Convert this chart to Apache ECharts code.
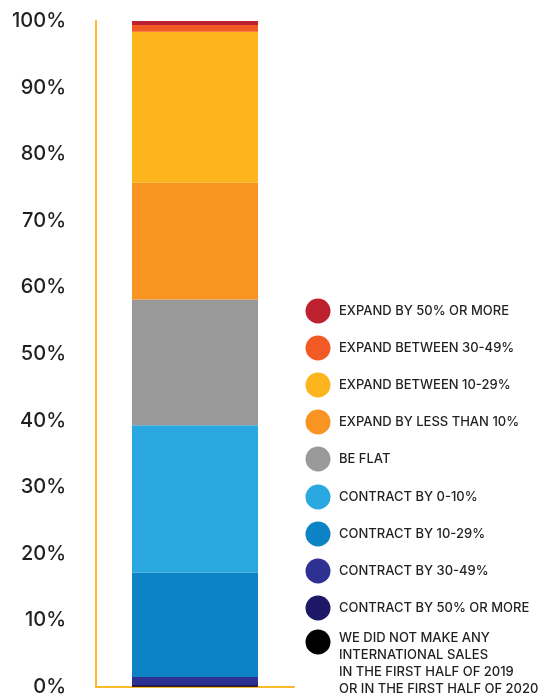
<!DOCTYPE html>
<html>
<head>
<meta charset="utf-8">
<script src="https://cdn.jsdelivr.net/npm/echarts@6/dist/echarts.min.js"></script>
<style>
  html, body { margin: 0; padding: 0; background: #fff; }
  #chart { width: 544px; height: 697px; }
</style>
</head>
<body>
<div id="chart"></div>
<script>
// Stacked share of responses, listed from the bottom of the bar to the top
const seriesNames = [
  'WE DID NOT MAKE ANY\nINTERNATIONAL SALES\nIN THE FIRST HALF OF 2019\nOR IN THE FIRST HALF OF 2020',
  'CONTRACT BY 50% OR MORE',
  'CONTRACT BY 30-49%',
  'CONTRACT BY 10-29%',
  'CONTRACT BY 0-10%',
  'BE FLAT',
  'EXPAND BY LESS THAN 10%',
  'EXPAND BETWEEN 10-29%',
  'EXPAND BETWEEN 30-49%',
  'EXPAND BY 50% OR MORE'
];
const seriesValues = [0.1, 0.2, 1.2, 15.7, 22.1, 18.9, 17.5, 22.7, 1.0, 0.6];
const seriesColors = [
  '#000000', '#1c1766', '#2e3192', '#0c83c4', '#29a9e0',
  '#999999', '#f89422', '#fdb51e', '#f15a24', '#bd2130'
];
const categories = [''];
const yTicks = { min: 0, max: 100, interval: 10 };

const FONT = 'Inter, "Noto Sans", sans-serif';
const TEXT = '#231f20';
const AXIS = '#fdb92a';

const series = seriesNames.map((name, i) => ({
  name,
  type: 'bar',
  stack: 'total',
  barWidth: 126,
  itemStyle: { color: seriesColors[i] },
  emphasis: { disabled: true },
  data: [seriesValues[i]]
}));

// Legend drawn top-down, reverse of the stacking order
const legendItems = [];
const rowY = [311, 348, 385, 422, 459, 497, 534, 571, 608, 642];
for (let k = 0; k < seriesNames.length; k++) {
  const i = seriesNames.length - 1 - k;
  const y = rowY[k];
  const multi = seriesNames[i].indexOf('\n') >= 0;
  legendItems.push({
    type: 'circle',
    shape: { cx: 318, cy: y, r: 12.5 },
    style: { fill: seriesColors[i] }
  });
  legendItems.push({
    type: 'text',
    x: 339,
    y: multi ? y - 4 - 8.5 : y,
    style: {
      text: seriesNames[i],
      fill: TEXT,
      font: '500 13px ' + FONT,
      lineHeight: 17,
      verticalAlign: multi ? 'top' : 'middle',
      align: 'left'
    }
  });
}

const chart = echarts.init(document.getElementById('chart'), null, { renderer: 'canvas' });
chart.setOption({
  animation: false,
  grid: { left: 96, right: 250, top: 21, bottom: 7 },
  xAxis: {
    type: 'category',
    data: categories,
    axisLine: { lineStyle: { color: AXIS, width: 2 } },
    axisTick: { show: false },
    axisLabel: { show: false }
  },
  yAxis: {
    type: 'value',
    min: yTicks.min,
    max: yTicks.max,
    interval: yTicks.interval,
    axisLine: { show: true, lineStyle: { color: AXIS, width: 2 } },
    axisTick: { show: false },
    splitLine: { show: false },
    axisLabel: {
      formatter: '{value}%',
      margin: 30,
      color: TEXT,
      fontFamily: FONT,
      fontSize: 20,
      fontWeight: 500
    }
  },
  series,
  graphic: legendItems
});
</script>
</body>
</html>
